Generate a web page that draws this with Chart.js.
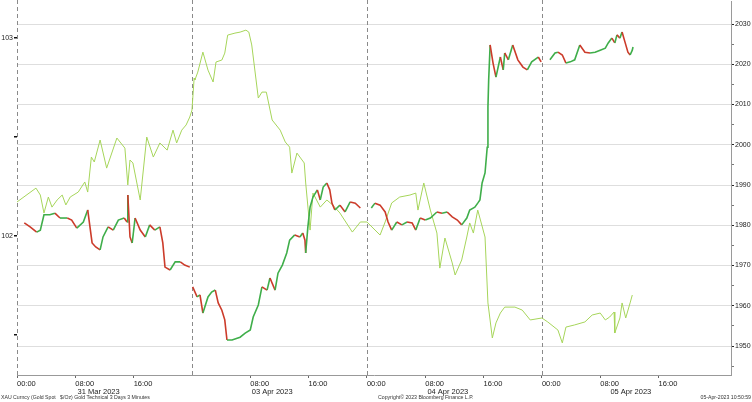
<!DOCTYPE html>
<html>
<head>
<meta charset="utf-8">
<script src="https://cdn.jsdelivr.net/npm/chart.js@4"></script>
<style>
  html, body { margin: 0; padding: 0; background: #ffffff; }
  #wrap { width: 752px; height: 402px; position: relative; }
</style>
</head>
<body>
<div id="wrap"><canvas id="c" width="752" height="402"></canvas></div>
<script>
// ---- data (x = chart hours on Bloomberg's compressed session timeline) ----
const goldHours = [1.0,1.8,2.7,3.2,3.7,4.5,5.2,5.9,6.9,7.5,8.2,9.1,9.7,10.3,10.8,11.4,11.8,12.5,13.2,13.9,14.7,15.1,15.2,15.5,15.8,16.2,16.9,17.6,18.2,18.9,19.6,20.0,20.3,21.0,21.7,22.4,23.0,23.7,
  23.9,
  24.1,24.7,25.1,25.5,26.2,26.7,27.2,27.6,28.1,28.5,28.8,29.5,30.6,31.3,32.0,32.4,33.1,33.6,34.3,34.7,35.4,35.8,36.4,37.0,37.4,38.1,38.8,39.2,39.5,39.6,39.9,40.2,40.6,41.2,41.6,42.0,42.5,42.9,43.2,43.6,44.3,45.0,45.7,46.4,47.1,
  47.8,
  48.6,49.1,49.8,50.5,50.9,51.4,52.1,52.8,53.5,54.2,54.7,55.3,56.0,56.7,57.6,58.3,59.0,59.7,60.4,61.0,61.7,62.1,62.8,63.2,63.5,63.8,64.2,64.5,64.6,64.7,64.9,65.3,65.7,66.3,66.7,66.9,67.4,68.0,68.7,69.4,70.0,70.6,71.5,71.9,
  72.5,
  73.1,73.8,74.2,74.8,75.3,75.9,76.5,77.2,77.9,78.6,79.3,80.0,80.7,81.1,81.6,82.0,82.3,82.7,83.0,83.4,83.8,84.1,84.4,84.5];
const goldValues = [1980.6,1979.6,1978.3,1978.8,1982.6,1982.6,1983.0,1981.8,1981.8,1981.3,1979.3,1980.8,1983.8,1975.6,1974.6,1973.9,1977.1,1979.6,1978.8,1981.3,1981.8,1980.8,1987.5,1977.1,1975.6,1981.8,1978.8,1977.1,1980.1,1978.8,1979.6,1975.6,1969.6,1968.9,1970.9,1970.9,1970.1,1969.6,
  null,
  1964.7,1962.2,1962.7,1958.2,1962.2,1963.4,1963.9,1960.7,1958.9,1956.5,1951.5,1951.5,1952.2,1953.2,1954.0,1957.2,1960.2,1964.7,1963.9,1966.9,1963.9,1968.1,1970.1,1973.1,1976.3,1977.6,1977.1,1978.1,1976.3,1973.1,1979.6,1984.5,1987.0,1988.8,1986.3,1989.5,1990.5,1988.8,1985.5,1983.8,1985.0,1983.3,1985.8,1985.5,1984.3,
  null,
  1984.3,1985.5,1985.0,1983.3,1980.8,1978.8,1980.8,1980.1,1980.8,1980.6,1978.8,1981.8,1981.3,1981.8,1983.3,1983.0,1983.3,1982.1,1981.3,1980.1,1981.8,1983.8,1984.5,1985.5,1986.3,1990.5,1993.0,1999.4,2009.4,2016.1,2024.8,2020.3,2016.8,2021.8,2018.6,2022.8,2021.1,2024.8,2021.1,2019.3,2018.6,2020.6,2021.8,2020.6,
  null,
  2021.1,2022.8,2023.0,2022.3,2020.3,2020.6,2021.1,2024.8,2023.0,2022.8,2023.0,2023.5,2024.0,2025.3,2026.5,2025.3,2027.3,2026.5,2028.0,2025.5,2023.0,2022.3,2023.5,2024.3];

const limeHours = [0,2.6,3.2,3.7,4.3,4.8,5.5,6.2,6.7,7.3,8.4,9.3,9.7,10.2,10.6,11.4,12.3,13.7,14.8,15.2,15.5,15.9,16.9,17.8,18.7,19.6,20.6,21.4,21.9,22.6,23.2,23.7,24.0,24.3,24.4,24.8,25.5,26.2,26.9,27.3,28.1,28.5,28.9,29.9,30.6,31.4,31.8,32.2,33.1,33.6,34.2,35.0,36.1,36.8,37.4,37.7,38.4,39.4,39.6,40.2,40.6,41.6,42.5,43.3,44.3,46.0,47.1,48.0,49.8,50.5,51.4,52.5,53.9,54.7,55.0,55.8,56.7,57.6,58.0,58.7,59.7,60.1,61.0,61.7,62.1,62.6,63.2,64.2,64.6,65.2,65.7,66.3,66.9,68.3,69.3,70.4,72.0,72.8,74.2,74.8,75.3,76.5,77.9,78.9,80.0,80.7,81.3,81.9,82.0,82.7,83.0,83.5,84.1,84.4];
const limeValues = [102.172,102.242,102.207,102.116,102.197,102.146,102.182,102.207,102.157,102.197,102.222,102.273,102.222,102.399,102.374,102.485,102.343,102.495,102.444,102.258,102.384,102.369,102.182,102.500,102.399,102.470,102.434,102.535,102.470,102.535,102.561,102.601,102.636,102.798,102.788,102.828,102.929,102.838,102.778,102.879,102.889,102.924,103.015,103.025,103.030,103.040,103.030,102.965,102.697,102.727,102.727,102.586,102.535,102.475,102.449,102.318,102.419,102.369,102.268,102.030,102.217,102.146,102.182,102.157,102.116,102.020,102.071,102.071,102.005,102.071,102.167,102.197,102.207,102.217,102.131,102.268,102.131,102.015,101.838,101.990,101.864,101.803,101.879,101.995,102.066,102.015,102.131,101.995,101.662,101.485,101.561,101.611,101.641,101.641,101.626,101.576,101.586,101.566,101.525,101.460,101.540,101.551,101.566,101.601,101.611,101.576,101.591,101.616,101.510,101.586,101.662,101.586,101.662,101.702];

const timeTickHours  = [0, 8, 16, 32, 40, 48, 56, 64, 72, 80, 88];
const timeTickLabels = ['00:00','08:00','16:00','08:00','16:00','00:00','08:00','16:00','00:00','08:00','16:00'];
const dateTickHours  = [11.2, 35.0, 59.1, 84.2];
const dateTickLabels = ['31 Mar 2023','03 Apr 2023','04 Apr 2023','05 Apr 2023'];
const dayBoundaryHours = [0, 24, 48, 72];
const goldTicks = [1945,1950,1955,1960,1965,1970,1975,1980,1985,1990,1995,2000,2005,2010,2015,2020,2025,2030];
const leftTicks = [101.5, 102, 102.5, 103];
const footerLeft = 'XAU Curncy (Gold Spot   $/Oz) Gold Technical 3 Days 3 Minutes';
const footerMid = 'Copyright\u00A9 2023 Bloomberg Finance L.P.';
const footerRight = '05-Apr-2023 10:50:59';

// ---- chart ----
const FONT = 'Liberation Sans';
const UP = '#3fae4a', DOWN = '#cc3b2a', LIME = '#a6d55a';

const goldData = goldHours.map((h, i) => ({x: h, y: goldValues[i]}));
const limeData = limeHours.map((h, i) => ({x: h, y: limeValues[i]}));

const dividers = {
  id: 'dividers',
  beforeDatasetsDraw(chart) {
    const {ctx, chartArea, scales} = chart;
    ctx.save();
    ctx.strokeStyle = '#8a8a8a';
    ctx.lineWidth = 1;
    ctx.setLineDash([4, 3]);
    dayBoundaryHours.forEach(h => {
      const x = Math.round(scales.x.getPixelForValue(h)) + 0.5;
      ctx.beginPath();
      ctx.moveTo(x, 0);
      ctx.lineTo(x, chartArea.bottom);
      ctx.stroke();
    });
    ctx.restore();
  }
};

const footer = {
  id: 'footer',
  afterDraw(chart) {
    const ctx = chart.ctx;
    ctx.save();
    ctx.fillStyle = '#333';
    ctx.font = '5.2px "' + FONT + '"';
    ctx.textBaseline = 'middle';
    ctx.textAlign = 'left';
    ctx.fillText(footerLeft, 1, 397.5);
    ctx.fillText(footerMid, 378, 397.5);
    ctx.textAlign = 'right';
    ctx.fillText(footerRight, 751, 397.5);
    ctx.restore();
  }
};

new Chart(document.getElementById('c'), {
  type: 'line',
  data: {
    datasets: [
      {
        label: 'Gold',
        data: goldData,
        yAxisID: 'yR',
        xAxisID: 'x',
        borderWidth: 1.6,
        pointRadius: 0,
        spanGaps: false,
        borderColor: DOWN,
        segment: {
          borderColor: c => (c.p1.parsed.y >= c.p0.parsed.y ? UP : DOWN)
        }
      },
      {
        label: 'Index',
        data: limeData,
        yAxisID: 'yL',
        xAxisID: 'x',
        borderWidth: 1,
        pointRadius: 0,
        borderColor: LIME
      }
    ]
  },
  options: {
    responsive: false,
    animation: false,
    events: [],
    layout: { padding: { top: 0, bottom: 6, left: 0, right: 0 } },
    plugins: { legend: { display: false }, tooltip: { enabled: false } },
    scales: {
      x: {
        type: 'linear', position: 'bottom', min: 0, max: 97.94,
        afterBuildTicks: s => { s.ticks = timeTickHours.map(v => ({value: v})); },
        afterFit: s => { s.height = 12; },
        ticks: {
          autoSkip: false, maxRotation: 0, align: 'start', padding: 1,
          color: '#222', font: { family: FONT, size: 7.5 },
          callback: v => timeTickLabels[timeTickHours.indexOf(v)]
        },
        grid: { drawOnChartArea: false, tickLength: 3, tickColor: '#666' },
        border: { display: true, color: '#999', width: 1 }
      },
      xd: {
        type: 'linear', position: 'bottom', min: 0, max: 97.94,
        afterBuildTicks: s => { s.ticks = dateTickHours.map(v => ({value: v})); },
        afterFit: s => { s.height = 9; },
        ticks: {
          autoSkip: false, maxRotation: 0, padding: 0,
          color: '#222', font: { family: FONT, size: 7.5 },
          callback: v => dateTickLabels[dateTickHours.indexOf(v)]
        },
        grid: { display: false, drawTicks: false },
        border: { display: false }
      },
      yL: {
        type: 'linear', position: 'left', min: 101.298, max: 103.187,
        afterBuildTicks: s => { s.ticks = leftTicks.map(v => ({value: v})); },
        afterFit: s => { s.width = 17; },
        ticks: {
          padding: 1, color: '#222', font: { family: FONT, size: 7, lineHeight: 0.01 },
          callback: v => (Number.isInteger(v) ? String(v) : '')
        },
        grid: { drawOnChartArea: false, tickLength: 3, tickColor: '#111', lineWidth: 1.5 },
        border: { display: false }
      },
      yR: {
        type: 'linear', position: 'right', min: 1942.8, max: 2035.71,
        afterBuildTicks: s => { s.ticks = goldTicks.map(v => ({value: v})); },
        afterFit: s => { s.width = 21; },
        ticks: {
          padding: 1, color: '#222', font: { family: FONT, size: 7, lineHeight: 0.01 },
          callback: v => (v % 10 === 0 && v >= 1950 && v <= 2030 ? String(v) : '')
        },
        grid: {
          drawOnChartArea: true, tickLength: 3,
          color: c => (c.tick && c.tick.value % 10 === 0 && c.tick.value <= 2030 && c.tick.value >= 1950 ? '#dedede' : 'rgba(0,0,0,0)'),
          tickColor: c => (c.tick && c.tick.value % 10 === 0 ? '#222' : '#777')
        },
        border: { display: true, color: '#9a9a9a', width: 1 }
      }
    }
  },
  plugins: [dividers, footer]
});
</script>
</body>
</html>
